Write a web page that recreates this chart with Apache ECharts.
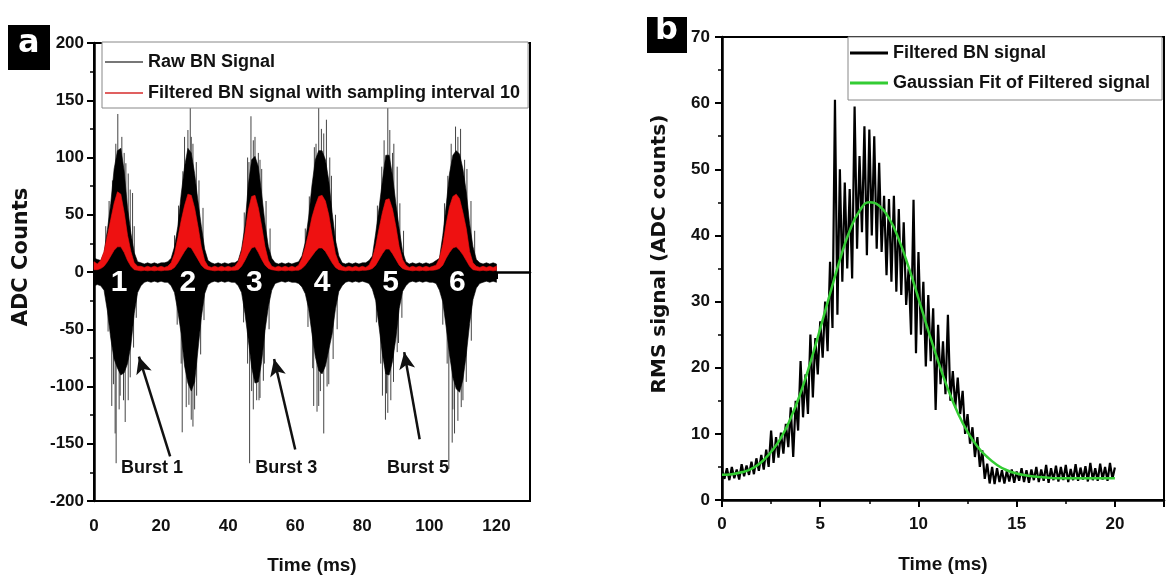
<!DOCTYPE html>
<html>
<head>
<meta charset="utf-8">
<script src="https://cdn.jsdelivr.net/npm/echarts@6/dist/echarts.min.js"></script>
<style>
  html, body { margin: 0; background: #fff; }
  #chart { width: 1166px; height: 581px; }
</style>
</head>
<body>
<div id="chart"></div>
<script>
var NARROW = '"Liberation Sans",Arial,sans-serif';
var WIDE = '"DejaVu Sans",sans-serif';

// ---- panel a : raw / filtered BN signal, envelopes read every 1 ms (0..120 ms)
var rawHi = [
  12, 11, 10, 17, 37, 60, 90, 106, 108, 88,
  56, 34, 17, 9, 8, 7, 8, 7, 8, 7,
  8, 8, 9, 12, 22, 40, 68, 92, 108, 104,
  86, 62, 40, 20, 10, 8, 7, 8, 7, 8,
  7, 8, 8, 10, 20, 40, 76, 98, 101, 92,
  68, 42, 22, 12, 8, 7, 8, 7, 8, 7,
  8, 9, 14, 26, 48, 76, 98, 106, 106, 98,
  80, 52, 28, 14, 8, 7, 8, 7, 8, 7,
  8, 8, 10, 14, 34, 56, 80, 102, 102, 84,
  60, 38, 18, 9, 7, 8, 7, 8, 7, 8,
  7, 8, 10, 12, 32, 58, 86, 102, 106, 103,
  90, 70, 42, 22, 11, 8, 7, 8, 7, 8,
  7
];
var rawLo = [
  -12, -11, -12, -16, -34, -58, -76, -84, -90, -88,
  -80, -64, -36, -18, -12, -9, -8, -9, -8, -9,
  -8, -9, -9, -12, -18, -34, -54, -82, -97, -104,
  -96, -68, -40, -19, -11, -9, -8, -9, -8, -9,
  -8, -9, -9, -12, -18, -36, -59, -83, -97, -96,
  -78, -51, -30, -16, -10, -9, -8, -9, -8, -9,
  -9, -10, -13, -19, -32, -54, -74, -86, -89, -82,
  -68, -54, -32, -17, -12, -9, -8, -9, -8, -9,
  -8, -9, -10, -15, -25, -48, -72, -89, -90, -78,
  -58, -32, -17, -12, -9, -8, -9, -8, -9, -8,
  -9, -9, -10, -16, -26, -48, -72, -92, -102, -105,
  -94, -72, -45, -24, -14, -10, -9, -8, -9, -8,
  -9
];
var filtHi = [
  9, 7, 10, 18, 32, 46, 60, 70, 68, 52,
  32, 18, 8, 5, 5, 4, 5, 4, 5, 4,
  5, 4, 5, 8, 16, 30, 45, 58, 68, 67,
  56, 40, 22, 10, 5, 4, 5, 4, 5, 4,
  5, 4, 5, 9, 18, 34, 54, 66, 67, 56,
  40, 22, 10, 5, 4, 5, 4, 5, 4, 5,
  4, 6, 12, 22, 34, 48, 58, 66, 67, 62,
  50, 32, 16, 8, 5, 4, 5, 4, 5, 4,
  5, 4, 6, 12, 23, 38, 52, 63, 64, 55,
  40, 22, 11, 6, 4, 5, 4, 5, 4, 5,
  4, 5, 6, 12, 24, 42, 57, 66, 68, 64,
  52, 38, 18, 8, 5, 4, 5, 4, 5, 4,
  5
];
var filtLo = [
  2, 2, 3, 5, 9, 14, 19, 22, 22, 17,
  10, 5, 2, 1.5, 1, 1.5, 1, 1.5, 1, 1.5,
  1, 1.5, 1.5, 2, 4, 8, 13, 18, 22, 21,
  16, 11, 6, 3, 2, 1.5, 1, 1.5, 1, 1.5,
  1, 1.5, 1.5, 2, 5, 10, 16, 21, 22, 17,
  11, 6, 3, 2, 1.5, 1, 1.5, 1, 1.5, 1,
  1.5, 1.5, 3, 6, 10, 14, 18, 21, 21, 18,
  13, 8, 4, 2, 1.5, 1, 1.5, 1, 1.5, 1,
  1.5, 1.5, 2, 3, 6, 11, 16, 20, 20, 16,
  11, 6, 3, 2, 1.5, 1, 1.5, 1, 1.5, 1,
  1.5, 1.5, 2, 3, 6, 12, 17, 21, 22, 19,
  15, 10, 5, 2, 1.5, 1, 1.5, 1, 1.5, 1,
  1.5
];
var RAW_STEP = 1;
// isolated spikes of the raw signal [time ms, ADC]
var spikesUp = [
  [7.1, 138], [8.3, 118], [6.5, 112], [10.2, 86], [11.5, 69], [9.5, 95],
  [4.5, 62], [5.5, 80], [9.0, 104], [10.8, 72], [12.0, 40], [3.5, 40],
  [28.7, 150], [28.0, 124], [27.0, 118], [29.5, 112], [30.5, 96],
  [25.2, 58], [26.5, 88], [29.0, 118], [31.3, 80], [32.5, 56], [24.0, 32],
  [46.8, 136], [48.0, 118], [49.0, 104], [50.0, 90], [45.8, 100],
  [44.8, 52], [46.2, 96], [47.5, 115], [49.5, 98], [51.3, 62], [52.5, 38],
  [67.0, 150], [69.3, 133], [65.7, 109], [68.5, 121], [70.3, 100],
  [64.2, 66], [66.2, 112], [67.8, 125], [70.8, 84], [72.0, 50], [63.0, 38],
  [87.6, 150], [89.4, 112], [90.4, 92], [86.5, 115],
  [84.5, 58], [85.8, 92], [88.2, 124], [89.0, 104], [91.2, 60], [92.3, 36],
  [107.8, 127], [109.3, 125], [106.5, 112], [110.5, 98],
  [104.5, 60], [105.5, 84], [108.5, 118], [111.2, 90], [112.4, 62], [113.5, 36]
];
var spikesDown = [
  [6.6, -167], [6.3, -141], [5.3, -117], [8.8, -112], [9.3, -131], [10.2, -112], [7.5, -120],
  [4.2, -52], [5.8, -98], [7.8, -108], [10.8, -92], [11.8, -66], [12.6, -40],
  [26.3, -140], [29.0, -129], [30.0, -120], [29.5, -135], [27.5, -118],
  [24.8, -46], [26.0, -80], [28.3, -116], [30.6, -108], [31.8, -72], [32.8, -42],
  [46.4, -167], [47.5, -120], [48.5, -112], [50.5, -95], [49.5, -110],
  [44.6, -44], [45.8, -80], [47.0, -104], [49.2, -112], [50.8, -80], [52.2, -50],
  [65.5, -117], [68.5, -141], [67.0, -117], [66.5, -122], [70.0, -98],
  [63.8, -48], [65.2, -84], [67.5, -104], [69.5, -100], [71.3, -76], [72.5, -50],
  [86.9, -129], [87.6, -123], [90.4, -70], [86.0, -108], [88.5, -112],
  [84.2, -44], [85.5, -80], [87.2, -106], [89.3, -96], [90.8, -62], [91.8, -40],
  [105.8, -172], [106.8, -149], [107.5, -141], [108.5, -130], [110.0, -112],
  [104.0, -46], [105.3, -80], [107.0, -120], [109.5, -118], [111.0, -96], [112.5, -60]
];
var burstNums = ['1', '2', '3', '4', '5', '6'];
var burstNumT = [7.5, 28, 47.8, 68, 88.4, 108.3];
var burstNumY = -9;
var burstNames = ['Burst 1', 'Burst 3', 'Burst 5'];
var burstNameT = [17.3, 57.3, 96.6];
var burstNameY = -171;
// arrows: [tail t, tail y, head t, head y]
var arrows = [
  [22.7, -161, 13.4, -74],
  [60.0, -155, 53.7, -76],
  [97.1, -146, 92.5, -70]
];

// ---- panel b : RMS signal, max every 0.25 ms, min half a step later
var RMS_STEP = 0.25;
var rmsHi = [
  4.5, 4.8, 5.0, 4.6, 5.4, 5.2, 5.8, 6.3, 6.8, 7.6,
  10.5, 9.5, 10.2, 11.5, 14.0, 15.0, 21.0, 19.0, 25.0, 24.5,
  27.0, 30.0, 36.0, 60.5, 50.0, 48.0, 47.0, 59.5, 52.0, 56.5,
  56.0, 55.0, 51.0, 46.0, 45.5, 46.0, 44.0, 42.0, 35.0, 45.4,
  37.5, 33.0, 31.0, 29.0, 26.5, 24.0, 28.0, 19.5, 18.5, 16.5,
  13.0, 11.0, 9.5, 7.5, 5.5, 5.0, 4.8, 4.5, 4.4, 4.6,
  4.3, 4.8, 4.5, 4.6, 5.0, 4.6, 5.3, 4.8, 5.2, 5.0,
  5.3, 4.7, 5.4, 4.9, 5.1, 5.6, 4.8, 5.5, 5.0, 5.6,
  4.9
];
var rmsLo = [
  3.2, 3.0, 3.3, 3.1, 3.6, 3.8, 3.9, 4.4, 4.6, 5.0,
  5.6, 6.4, 7.0, 8.0, 6.5, 10.5, 12.5, 13.0, 15.5, 19.0,
  21.5, 22.5, 26.0, 28.0, 33.0, 35.0, 33.5, 38.0, 40.5, 37.0,
  40.0, 38.0, 37.5, 34.0, 33.0, 31.5, 31.0, 29.5, 25.0, 22.2,
  25.0, 20.2, 21.0, 13.6, 17.5, 16.0, 15.0, 14.0, 13.0, 10.0,
  8.5, 6.5, 5.0, 3.2, 2.5, 2.4, 2.7, 2.5, 2.8, 2.6,
  2.9, 2.7, 2.6, 3.0, 2.7, 2.9, 2.6, 3.0, 2.8, 3.0,
  2.7, 3.0, 2.9, 3.1, 2.8, 3.0, 2.9, 3.1, 2.9, 3.2,
  3.3
];
// Gaussian fit curve, every 0.5 ms
var FIT_STEP = 0.5;
var fitV = [
  3.8, 3.9, 4.2, 4.7, 5.7, 7.3, 9.4, 12.4, 16.2, 20.8,
  25.9, 31.2, 36.3, 40.7, 43.7, 45.0, 44.5, 42.6, 39.4, 35.2,
  30.5, 25.6, 21.0, 16.8, 13.2, 10.3, 8.1, 6.5, 5.3, 4.5,
  4.0, 3.7, 3.5, 3.4, 3.3, 3.3, 3.3, 3.3, 3.3, 3.3,
  3.3
];

var rawT = rawHi.map(function (_, i) { return i * RAW_STEP; });

var rmsData = [];
rmsHi.forEach(function (v, i) {
  rmsData.push([i * RMS_STEP, v]);
  if (i < rmsHi.length - 1) rmsData.push([i * RMS_STEP + RMS_STEP / 2, rmsLo[i]]);
});
var fitData = fitV.map(function (v, i) { return [i * FIT_STEP, v]; });

function bandSeries(name, t, hi, lo, color, z) {
  return {
    name: name, type: 'custom', xAxisIndex: 0, yAxisIndex: 0, z: z, silent: true,
    data: t.map(function (v, i) { return [v, hi[i], lo[i]]; }),
    encode: { x: 0, y: [1, 2] },
    itemStyle: { color: color },
    renderItem: function (params, api) {
      if (params.dataIndex !== 0) return null;
      var pts = [];
      for (var i = 0; i < t.length; i++) pts.push(api.coord([t[i], hi[i]]));
      for (var j = t.length - 1; j >= 0; j--) pts.push(api.coord([t[j], lo[j]]));
      return { type: 'polygon', shape: { points: pts }, style: { fill: color, stroke: color, lineWidth: 0.6 } };
    }
  };
}

function textSeries(names, ts, y, color, size) {
  return {
    type: 'scatter', xAxisIndex: 0, yAxisIndex: 0, z: 6, silent: true,
    symbolSize: 1, itemStyle: { color: 'rgba(0,0,0,0)', opacity: 1 },
    data: ts.map(function (t, i) { return { name: names[i], value: [t, y] }; }),
    label: {
      show: true, position: 'inside', formatter: '{b}', opacity: 1,
      color: color, fontFamily: NARROW, fontWeight: 'bold', fontSize: size
    }
  };
}

var axisLine = { lineStyle: { color: '#000', width: 2.5 } };
var axisTick = { length: 7, lineStyle: { color: '#000', width: 2 } };
var minorTick = { show: true, splitNumber: 2, length: 4, lineStyle: { color: '#000', width: 1.5 } };
var tickLabel = { color: '#111', fontFamily: NARROW, fontWeight: 'bold', fontSize: 17 };
var nameNarrow = { color: '#111', fontFamily: NARROW, fontWeight: 'bold', fontSize: 19 };
var legendText = { color: '#111', fontFamily: NARROW, fontWeight: 'bold', fontSize: 18, lineHeight: 24 };

var burstLabels = textSeries(burstNames, burstNameT, burstNameY, '#111', 18);
burstLabels.markLine = {
  silent: true, animation: false,
  symbol: ['none', 'arrow'], symbolSize: [12, 17],
  lineStyle: { color: '#111', width: 2.5, type: 'solid' },
  label: { show: false },
  data: arrows.map(function (a) { return [{ coord: [a[0], a[1]] }, { coord: [a[2], a[3]] }]; })
};

var chart = echarts.init(document.getElementById('chart'));
chart.setOption({
  animation: false,
  backgroundColor: '#fff',
  grid: [
    { left: 94, top: 43, width: 436, height: 458, show: true, borderColor: '#000', borderWidth: 2 },
    { left: 722, top: 37, width: 442, height: 463, show: true, borderColor: '#000', borderWidth: 2 }
  ],
  xAxis: [
    {
      gridIndex: 0, type: 'value', min: 0, max: 130, interval: 20,
      axisLine: axisLine, axisTick: axisTick, minorTick: minorTick, splitLine: { show: false },
      axisLabel: Object.assign({ margin: 17, showMaxLabel: false }, tickLabel),
      name: 'Time (ms)', nameLocation: 'middle', nameGap: 55, nameTextStyle: nameNarrow
    },
    {
      gridIndex: 1, type: 'value', min: 0, max: 22.5, interval: 5,
      axisLine: axisLine, axisTick: axisTick, minorTick: minorTick, splitLine: { show: false },
      axisLabel: Object.assign({ margin: 16, showMaxLabel: false }, tickLabel),
      name: 'Time (ms)', nameLocation: 'middle', nameGap: 55, nameTextStyle: nameNarrow
    }
  ],
  yAxis: [
    {
      gridIndex: 0, type: 'value', min: -200, max: 200, interval: 50,
      axisLine: axisLine, axisTick: axisTick, minorTick: minorTick, splitLine: { show: false },
      axisLabel: Object.assign({ margin: 10 }, tickLabel),
      name: 'ADC Counts', nameLocation: 'middle', nameGap: 62,
      nameTextStyle: { color: '#111', fontFamily: WIDE, fontWeight: 'bold', fontSize: 21, padding: [0, 0, 0, 30] }
    },
    {
      gridIndex: 1, type: 'value', min: 0, max: 70, interval: 10,
      axisLine: axisLine, axisTick: axisTick, minorTick: minorTick, splitLine: { show: false },
      axisLabel: Object.assign({ margin: 12 }, tickLabel),
      name: 'RMS signal (ADC counts)', nameLocation: 'middle', nameGap: 52,
      nameTextStyle: { color: '#111', fontFamily: WIDE, fontWeight: 'bold', fontSize: 20, padding: [0, 0, 0, 29] }
    }
  ],
  legend: [
    {
      orient: 'vertical', left: 102, top: 42,
      padding: [8, 8, 3, 3], itemGap: 7, itemWidth: 38, itemHeight: 2,
      borderColor: '#888', borderWidth: 1, backgroundColor: '#fff',
      textStyle: legendText,
      data: [
        { name: 'Raw BN Signal', icon: 'rect', itemStyle: { color: '#777' } },
        { name: 'Filtered BN signal with sampling interval 10', icon: 'rect', itemStyle: { color: '#e06060' } }
      ]
    },
    {
      orient: 'vertical', left: 848, top: 37,
      padding: [4, 12, 5, 2], itemGap: 6, itemWidth: 38, itemHeight: 3,
      borderColor: '#888', borderWidth: 1, backgroundColor: '#fff',
      textStyle: legendText,
      data: [
        { name: 'Filtered BN signal', icon: 'rect', itemStyle: { color: '#000' } },
        { name: 'Gaussian Fit of Filtered signal', icon: 'rect', itemStyle: { color: '#33cc33' } }
      ]
    }
  ],
  series: [
    {
      name: 'Raw BN Signal', type: 'custom', xAxisIndex: 0, yAxisIndex: 0, z: 2, silent: true,
      data: spikesUp.concat(spikesDown),
      itemStyle: { color: '#777' },
      renderItem: function (params, api) {
        var a = api.coord([api.value(0), 0]);
        var b = api.coord([api.value(0), api.value(1)]);
        return { type: 'line', shape: { x1: a[0], y1: a[1], x2: b[0], y2: b[1] }, style: { stroke: '#444', lineWidth: 1 } };
      }
    },
    bandSeries('Raw BN Signal', rawT, rawHi, rawLo, '#000', 3),
    bandSeries('Filtered BN signal with sampling interval 10', rawT, filtHi, filtLo, '#ee1111', 4),
    textSeries(burstNums, burstNumT, burstNumY, '#fff', 30),
    burstLabels,
    {
      name: 'Filtered BN signal', type: 'line', xAxisIndex: 1, yAxisIndex: 1, z: 3,
      data: rmsData, showSymbol: false, silent: true,
      itemStyle: { color: '#000' }, lineStyle: { color: '#000', width: 2.2 }
    },
    {
      name: 'Gaussian Fit of Filtered signal', type: 'line', xAxisIndex: 1, yAxisIndex: 1, z: 4,
      data: fitData, smooth: true, showSymbol: false, silent: true,
      itemStyle: { color: '#33cc33' }, lineStyle: { color: '#33cc33', width: 2.5 }
    }
  ],
  graphic: [
    { type: 'rect', left: 8, top: 25, shape: { width: 42, height: 45 }, style: { fill: '#000' } },
    { type: 'text', left: 18, top: 28, style: { text: 'a', fill: '#fff', font: 'bold 32px ' + WIDE } },
    { type: 'rect', left: 647, top: 17, shape: { width: 40, height: 36 }, style: { fill: '#000' } },
    { type: 'text', left: 655, top: 15, style: { text: 'b', fill: '#fff', font: 'bold 32px ' + WIDE } }
  ]
});
</script>
</body>
</html>
